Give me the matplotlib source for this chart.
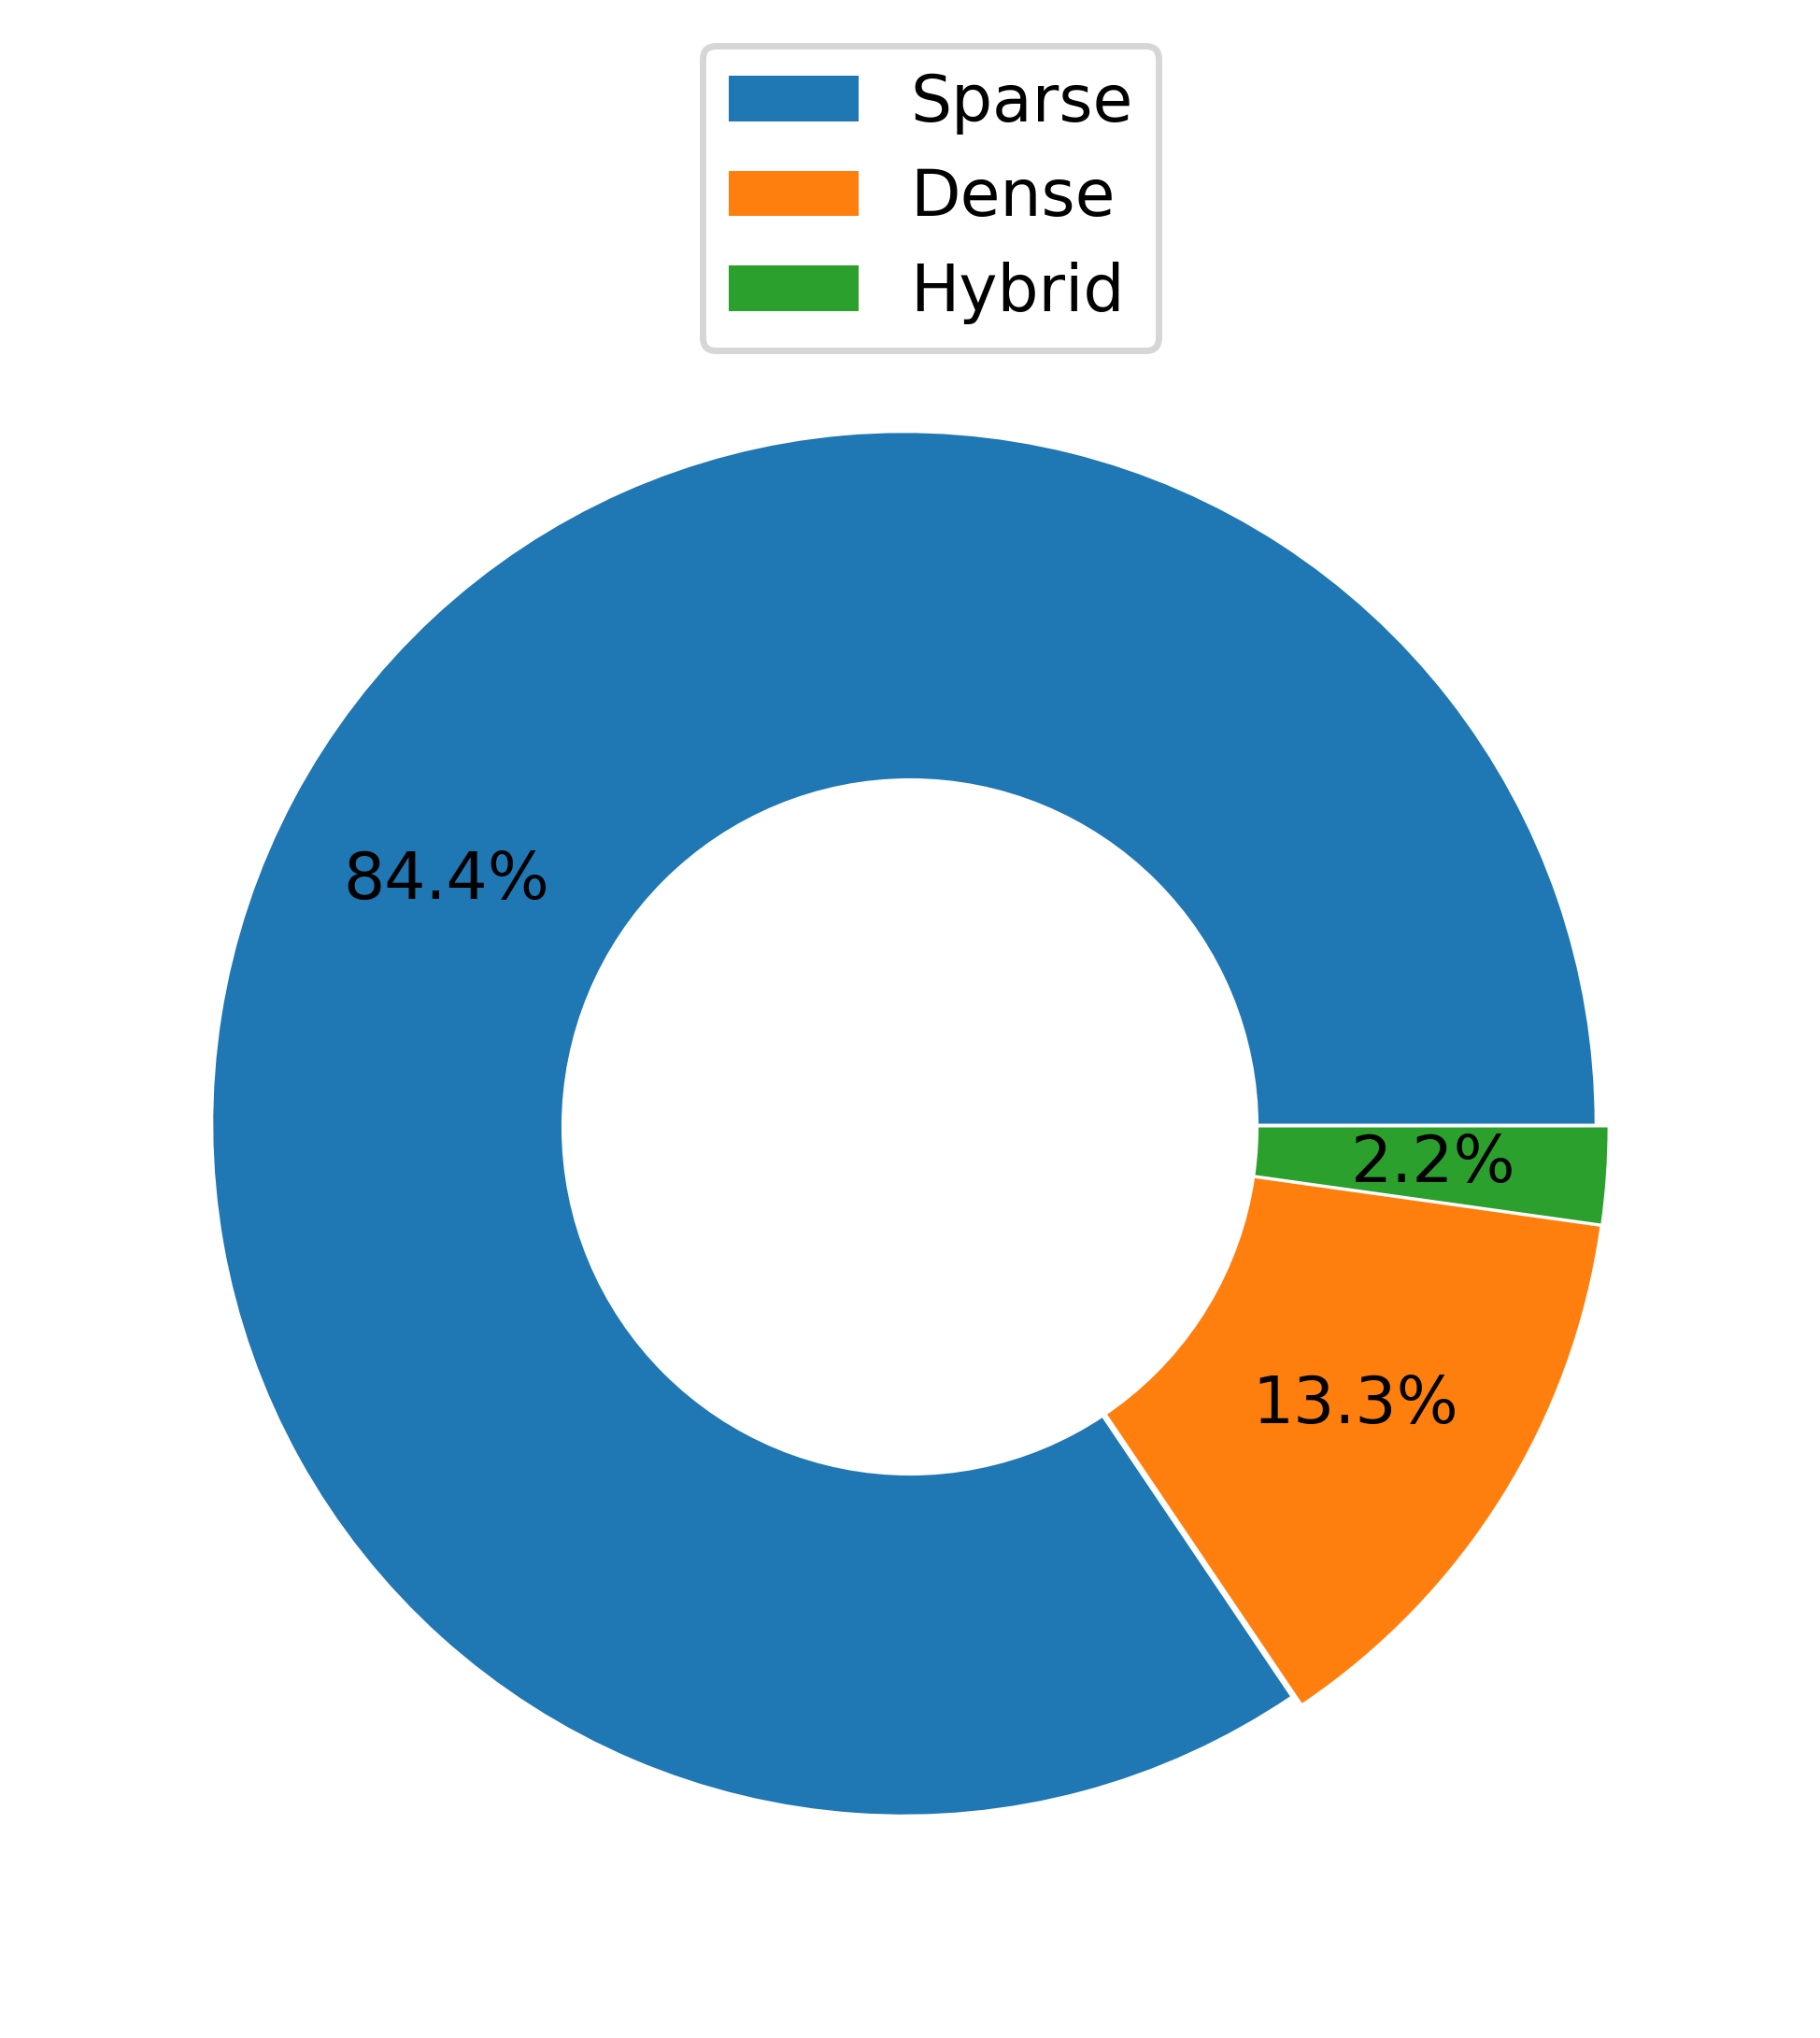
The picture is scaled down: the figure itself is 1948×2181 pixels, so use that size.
import matplotlib
matplotlib.use("Agg")
import matplotlib.pyplot as plt

labels = ["Sparse", "Dense", "Hybrid"]
counts = [38, 6, 1]
explode = [0.01, 0.01, 0.01]

fig = plt.figure(figsize=(1948 / 500, 2181 / 500), dpi=500)
ax = fig.add_axes([50 / 1948, 51 / 2181, 1848 / 1948, 1848 / 2181])

wedges, texts, autotexts = ax.pie(counts, explode=explode, autopct="%1.1f%%", pctdistance=0.75)
centre = plt.Circle((0, 0), 0.5, color="white")
ax.add_artist(centre)
ax.set_aspect("equal")
ax.legend(wedges, labels, loc="upper center", bbox_to_anchor=(0.512, 1.145))

fig.savefig("out.png", dpi=500)
